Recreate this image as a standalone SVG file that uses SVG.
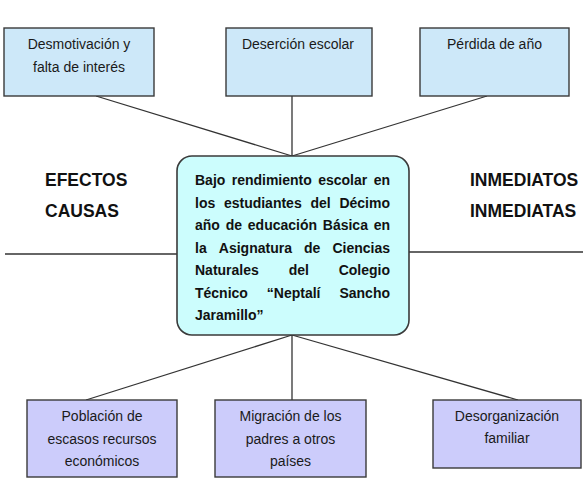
<svg xmlns="http://www.w3.org/2000/svg" width="585" height="478" viewBox="0 0 585 478">
<style>
.box{stroke:#3a3a3a;stroke-width:1.4}
.top{fill:#cde8f9}
.bot{fill:#ccccfb}
.ctr{fill:#ccfdfd;stroke:#3a3a3a;stroke-width:1.6}
.lbl{font-family:"Liberation Sans",Arial,sans-serif;font-size:14px;fill:#1a1a1a;text-anchor:middle}
.ct{font-family:"Liberation Sans",Arial,sans-serif;font-size:14px;font-weight:bold;fill:#111}
.side{font-family:"Liberation Sans",Arial,sans-serif;font-size:17.5px;font-weight:bold;fill:#111}
.ln{stroke:#333;stroke-width:1.3;fill:none}
</style>
<rect width="585" height="478" fill="#ffffff"/>
<g id="connectors">
<line class="ln" x1="5" y1="254" x2="177" y2="254"/>
<line class="ln" x1="409" y1="252" x2="583" y2="252"/>
<line class="ln" x1="96" y1="96" x2="292" y2="156"/>
<line class="ln" x1="292" y1="96" x2="292" y2="156"/>
<line class="ln" x1="487" y1="96" x2="292" y2="156"/>
<line class="ln" x1="292" y1="335" x2="86" y2="400"/>
<line class="ln" x1="292" y1="335" x2="292" y2="400"/>
<line class="ln" x1="292" y1="335" x2="518" y2="400"/>
</g>
<g id="labels">
<text class="side" x="45" y="186">EFECTOS</text>
<text class="side" x="45" y="217">CAUSAS</text>
<text class="side" x="470" y="186">INMEDIATOS</text>
<text class="side" x="470" y="217">INMEDIATAS</text>
</g>
<g id="effect1">
<rect class="box top" x="4" y="28" width="150" height="68"/>
<text class="lbl" x="79" y="49">Desmotivación y</text>
<text class="lbl" x="79" y="72">falta de interés</text>
</g>
<g id="effect2">
<rect class="box top" x="226" y="28" width="146" height="68"/>
<text class="lbl" x="298" y="49">Deserción escolar</text>
</g>
<g id="effect3">
<rect class="box top" x="420" y="28" width="149" height="68"/>
<text class="lbl" x="494.5" y="49">Pérdida de año</text>
</g>
<g id="problem">
<rect class="ctr" x="177" y="156" width="232" height="179" rx="15" ry="15"/>
<text class="ct" y="185"><tspan x="195">Bajo</tspan><tspan x="231.7">rendimiento</tspan><tspan x="318.2">escolar</tspan><tspan x="390" text-anchor="end">en</tspan></text>
<text class="ct" y="207.5"><tspan x="195">los</tspan><tspan x="223.9">estudiantes</tspan><tspan x="310.4">del</tspan><tspan x="390" text-anchor="end">Décimo</tspan></text>
<text class="ct" y="230"><tspan x="195">año</tspan><tspan x="225.7">de</tspan><tspan x="247.8">educación</tspan><tspan x="322.8">Básica</tspan><tspan x="390" text-anchor="end">en</tspan></text>
<text class="ct" y="252.5"><tspan x="195">la</tspan><tspan x="218.8">Asignatura</tspan><tspan x="304">de</tspan><tspan x="390" text-anchor="end">Ciencias</tspan></text>
<text class="ct" y="275"><tspan x="195">Naturales</tspan><tspan x="288.7">del</tspan><tspan x="390" text-anchor="end">Colegio</tspan></text>
<text class="ct" y="297.5"><tspan x="195">Técnico</tspan><tspan x="266.8">“Neptalí</tspan><tspan x="390" text-anchor="end">Sancho</tspan></text>
<text class="ct" x="195" y="320">Jaramillo”</text>
</g>
<g id="cause1">
<rect class="box bot" x="27" y="400" width="150" height="77"/>
<text class="lbl" x="102" y="421">Población de</text>
<text class="lbl" x="102" y="444">escasos recursos</text>
<text class="lbl" x="102" y="466">económicos</text>
</g>
<g id="cause2">
<rect class="box bot" x="215" y="400" width="151" height="77"/>
<text class="lbl" x="290.5" y="421">Migración de los</text>
<text class="lbl" x="290.5" y="444">padres a otros</text>
<text class="lbl" x="290.5" y="466">países</text>
</g>
<g id="cause3">
<rect class="box bot" x="433" y="400" width="148" height="68"/>
<text class="lbl" x="507" y="421">Desorganización</text>
<text class="lbl" x="507" y="443">familiar</text>
</g>
</svg>
